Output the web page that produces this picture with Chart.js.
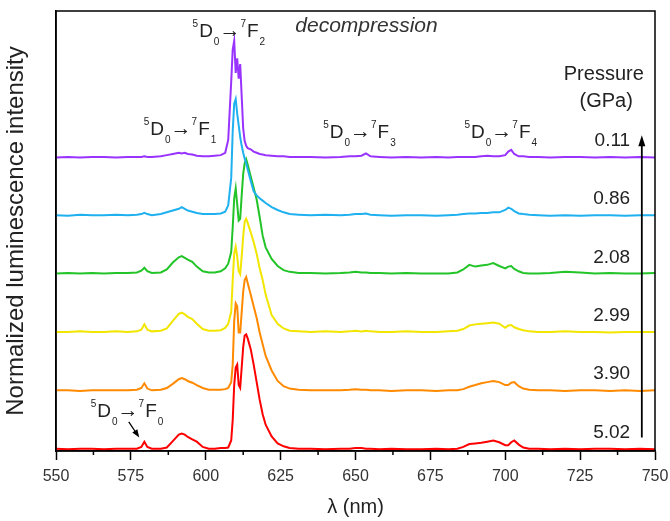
<!DOCTYPE html>
<html>
<head>
<meta charset="utf-8">
<script src="https://cdn.jsdelivr.net/npm/chart.js@4.4.1/dist/chart.umd.min.js"></script>
<style>
  html, body { margin:0; padding:0; background:#fff; }
  #wrap { width:670px; height:521px; }
</style>
</head>
<body>
<div id="wrap"><canvas id="spectra"></canvas></div>
<script>
// wavelength grid (nm), shared by all spectra
const wavelength = [
  550, 554, 558, 562, 566, 570, 574, 577, 578.5, 579.5, 580.5, 582,
  585, 587, 589, 591, 592, 593, 594, 595.5, 597, 599, 601, 603,
  605, 606.5, 607.5, 608.5, 609, 609.5, 610, 610.5, 611, 611.5, 612, 612.5,
  613, 613.5, 614, 615, 616, 617, 618, 619, 620, 622, 624, 626,
  628, 631, 635, 640, 645, 648, 650, 652, 653.5, 655, 658, 662,
  667, 672, 677, 681, 684, 686, 688, 690, 692, 694, 696, 698,
  700, 701, 702, 703, 704.5, 706, 708, 711, 715, 720, 725, 730,
  735, 740, 745, 750
];

// normalized intensities, one list per pressure
const int011 = [
  0.00, 0.01, 0.00, 0.01, 0.01, 0.00, 0.01, 0.01, 0.01, 0.02, 0.01, 0.01,
  0.02, 0.04, 0.06, 0.08, 0.07, 0.08, 0.06, 0.05, 0.03, 0.02, 0.02, 0.03,
  0.04, 0.08, 0.30, 1.30, 1.85, 2.00, 1.45, 1.70, 1.35, 1.60, 1.05, 0.50,
  0.28, 0.20, 0.16, 0.14, 0.10, 0.08, 0.06, 0.05, 0.04, 0.03, 0.02, 0.02,
  0.01, 0.01, 0.01, 0.00, 0.01, 0.02, 0.02, 0.03, 0.07, 0.02, 0.01, 0.00,
  0.01, 0.00, 0.01, 0.00, 0.01, 0.01, 0.01, 0.01, 0.02, 0.03, 0.02, 0.02,
  0.04, 0.10, 0.13, 0.06, 0.02, 0.02, 0.01, 0.01, 0.00, 0.01, 0.01, 0.00,
  0.01, 0.00, 0.01, 0.00
];
const int086 = [
  0.01, 0.00, 0.02, 0.01, 0.01, 0.02, 0.01, 0.02, 0.03, 0.05, 0.03, 0.01,
  0.03, 0.06, 0.09, 0.12, 0.15, 0.12, 0.09, 0.07, 0.05, 0.03, 0.03, 0.03,
  0.04, 0.07, 0.18, 0.65, 1.45, 1.92, 2.00, 1.75, 1.55, 1.35, 1.20, 1.08,
  0.98, 0.90, 0.80, 0.60, 0.42, 0.35, 0.30, 0.26, 0.22, 0.15, 0.10, 0.06,
  0.03, 0.02, 0.01, 0.02, 0.01, 0.02, 0.03, 0.03, 0.04, 0.02, 0.01, 0.00,
  0.01, 0.01, 0.00, 0.01, 0.02, 0.03, 0.04, 0.04, 0.05, 0.05, 0.06, 0.06,
  0.10, 0.14, 0.12, 0.08, 0.04, 0.03, 0.02, 0.01, 0.00, 0.01, 0.00, 0.01,
  0.01, 0.00, 0.01, 0.01
];
const int208 = [
  0.01, 0.02, 0.01, 0.02, 0.01, 0.02, 0.02, 0.03, 0.06, 0.11, 0.05, 0.02,
  0.03, 0.08, 0.20, 0.29, 0.31, 0.28, 0.25, 0.21, 0.13, 0.05, 0.03, 0.03,
  0.05, 0.10, 0.18, 0.38, 0.80, 1.30, 1.47, 1.20, 0.92, 0.95, 1.35, 1.72,
  1.90, 1.97, 1.88, 1.68, 1.48, 1.28, 0.98, 0.66, 0.46, 0.26, 0.14, 0.07,
  0.04, 0.02, 0.02, 0.01, 0.02, 0.03, 0.04, 0.03, 0.03, 0.02, 0.02, 0.01,
  0.02, 0.01, 0.01, 0.01, 0.03, 0.08, 0.16, 0.13, 0.15, 0.16, 0.19, 0.14,
  0.10, 0.13, 0.14, 0.09, 0.05, 0.02, 0.01, 0.01, 0.02, 0.04, 0.03, 0.01,
  0.02, 0.01, 0.01, 0.02
];
const int299 = [
  0.01, 0.01, 0.02, 0.01, 0.01, 0.02, 0.01, 0.02, 0.05, 0.14, 0.05, 0.02,
  0.03, 0.07, 0.20, 0.32, 0.34, 0.31, 0.27, 0.23, 0.15, 0.06, 0.03, 0.03,
  0.04, 0.08, 0.15, 0.35, 0.90, 1.35, 1.47, 1.30, 1.05, 1.00, 1.30, 1.65,
  1.90, 1.95, 1.88, 1.72, 1.55, 1.35, 1.10, 0.90, 0.65, 0.30, 0.15, 0.07,
  0.03, 0.02, 0.01, 0.02, 0.01, 0.02, 0.03, 0.02, 0.03, 0.02, 0.01, 0.01,
  0.02, 0.01, 0.01, 0.02, 0.03, 0.06, 0.12, 0.14, 0.15, 0.16, 0.17, 0.15,
  0.08, 0.12, 0.13, 0.09, 0.06, 0.04, 0.02, 0.01, 0.01, 0.02, 0.01, 0.01,
  0.00, 0.01, 0.01, 0.01
];
const int390 = [
  0.01, 0.01, 0.00, 0.01, 0.01, 0.01, 0.01, 0.02, 0.05, 0.13, 0.04, 0.01,
  0.02, 0.05, 0.12, 0.20, 0.22, 0.20, 0.17, 0.14, 0.10, 0.05, 0.02, 0.02,
  0.02, 0.03, 0.05, 0.15, 0.45, 1.20, 1.50, 1.45, 1.00, 1.00, 1.35, 1.70,
  1.90, 1.95, 1.85, 1.65, 1.45, 1.25, 1.00, 0.80, 0.60, 0.35, 0.17, 0.08,
  0.04, 0.02, 0.01, 0.01, 0.01, 0.02, 0.03, 0.02, 0.02, 0.01, 0.01, 0.00,
  0.01, 0.01, 0.00, 0.01, 0.01, 0.03, 0.07, 0.10, 0.13, 0.15, 0.17, 0.15,
  0.10, 0.10, 0.14, 0.15, 0.08, 0.04, 0.02, 0.01, 0.01, 0.00, 0.01, 0.01,
  0.00, 0.01, 0.00, 0.01
];
const int502 = [
  0.01, 0.00, 0.01, 0.01, 0.00, 0.01, 0.01, 0.01, 0.04, 0.13, 0.04, 0.01,
  0.01, 0.03, 0.14, 0.25, 0.27, 0.25, 0.21, 0.17, 0.13, 0.04, 0.01, 0.01,
  0.02, 0.02, 0.03, 0.15, 0.50, 1.10, 1.40, 1.45, 1.10, 1.05, 1.40, 1.75,
  1.95, 1.97, 1.90, 1.72, 1.45, 1.15, 0.85, 0.60, 0.42, 0.22, 0.10, 0.05,
  0.02, 0.01, 0.01, 0.00, 0.01, 0.01, 0.02, 0.02, 0.01, 0.01, 0.00, 0.01,
  0.00, 0.00, 0.01, 0.00, 0.01, 0.04, 0.09, 0.10, 0.11, 0.13, 0.15, 0.12,
  0.07, 0.07, 0.12, 0.15, 0.08, 0.03, 0.01, 0.01, 0.00, 0.01, 0.00, 0.01,
  0.01, 0.00, 0.01, 0.00
];

const pressures = ['0.11', '0.86', '2.08', '2.99', '3.90', '5.02'];
const spectra   = [int011, int086, int208, int299, int390, int502];
const offsets   = [5, 4, 3, 2, 1, 0];
const colors    = ['#9933ff', '#1fb0f0', '#22c428', '#f2e600', '#ff8a00', '#ff0000'];

const xTicks = [550, 575, 600, 625, 650, 675, 700, 725, 750];

const FONT = '"Liberation Sans", Arial, sans-serif';

// label positions in data units (nm, offset units)
const transitions = [
  {n:'2', x:595.6, y:7.07},
  {n:'1', x:579.3, y:5.38},
  {n:'3', x:639.2, y:5.34},
  {n:'4', x:686.4, y:5.34},
  {n:'0', x:561.6, y:0.556}
];

function drawTransition(ctx, px, py, n) {
  const big = '19px ' + FONT, small = '10px ' + FONT;
  const parts = [['5', small, -10, 1], ['D', big, 0, 1], ['0', small, 8, 0],
                 ['\u2192', '21px ' + FONT, 0, 0], ['7', small, -10, 1], ['F', big, 0, 1], [n, small, 8, 0]];
  let cx = px;
  for (const [t, f, dy, gap] of parts) {
    ctx.font = f;
    ctx.fillText(t, cx, py + dy);
    cx += ctx.measureText(t).width + gap;
  }
}

function arrow(ctx, x1, y1, x2, y2, head, w) {
  const ang = Math.atan2(y2 - y1, x2 - x1);
  ctx.beginPath();
  ctx.moveTo(x1, y1);
  ctx.lineTo(x2 - Math.cos(ang) * head * 0.8, y2 - Math.sin(ang) * head * 0.8);
  ctx.stroke();
  ctx.beginPath();
  ctx.moveTo(x2, y2);
  ctx.lineTo(x2 - Math.cos(ang) * head + Math.sin(ang) * w, y2 - Math.sin(ang) * head - Math.cos(ang) * w);
  ctx.lineTo(x2 - Math.cos(ang) * head - Math.sin(ang) * w, y2 - Math.sin(ang) * head + Math.cos(ang) * w);
  ctx.closePath();
  ctx.fill();
}

const annot = {
  id: 'annot',
  afterDraw(chart) {
    const {ctx, chartArea: a, scales: {x, y}} = chart;
    ctx.save();
    ctx.strokeStyle = '#000';
    ctx.fillStyle = '#000';
    ctx.lineWidth = 1.5;
    ctx.strokeRect(a.left, a.top, a.right - a.left, a.bottom - a.top);

    // minor ticks between labelled ones
    for (let i = 0; i < xTicks.length - 1; i++) {
      const px = x.getPixelForValue((xTicks[i] + xTicks[i + 1]) / 2);
      ctx.beginPath();
      ctx.moveTo(px, a.bottom);
      ctx.lineTo(px, a.bottom + 4);
      ctx.stroke();
    }

    ctx.fillStyle = '#222';
    ctx.textBaseline = 'alphabetic';
    ctx.textAlign = 'left';
    transitions.forEach(t => drawTransition(ctx, x.getPixelForValue(t.x), y.getPixelForValue(t.y), t.n));

    ctx.font = 'italic 21px ' + FONT;
    ctx.fillStyle = '#333';
    ctx.fillText('decompression', x.getPixelForValue(629.9), y.getPixelForValue(7.15));

    ctx.fillStyle = '#222';
    ctx.font = '20px ' + FONT;
    ctx.textAlign = 'center';
    ctx.fillText('Pressure', x.getPixelForValue(732.9), y.getPixelForValue(6.32));
    ctx.fillText('(GPa)', x.getPixelForValue(733.7), y.getPixelForValue(5.87));

    ctx.font = '19px ' + FONT;
    ctx.textAlign = 'right';
    pressures.forEach((p, i) => ctx.fillText(p, x.getPixelForValue(741.7), y.getPixelForValue(offsets[i] + 0.2)));

    // pressure direction arrow
    ctx.strokeStyle = '#000';
    ctx.fillStyle = '#000';
    ctx.lineWidth = 1.8;
    const ax = x.getPixelForValue(745.6);
    arrow(ctx, ax, y.getPixelForValue(0.2), ax, y.getPixelForValue(5.38), 11, 3.5);

    // arrow to the 7F0 line
    ctx.lineWidth = 1.3;
    arrow(ctx, x.getPixelForValue(574.3), y.getPixelForValue(0.47), x.getPixelForValue(577.8), y.getPixelForValue(0.2), 8, 3);
    ctx.restore();
  }
};

new Chart(document.getElementById('spectra').getContext('2d'), {
  type: 'scatter',
  data: {
    datasets: spectra.map((vals, i) => ({
      label: pressures[i] + ' GPa',
      data: wavelength.map((w, k) => ({x: w, y: offsets[i] + vals[k]})),
      showLine: true,
      borderColor: colors[i],
      borderWidth: 2,
      pointRadius: 0,
      tension: 0
    }))
  },
  options: {
    responsive: true, maintainAspectRatio: false, animation: false,
    layout: {padding: {top: 11, right: 15, left: 0, bottom: 0}},
    plugins: {legend: {display: false}, tooltip: {enabled: false}},
    scales: {
      x: {
        type: 'linear', min: 550, max: 750,
        afterBuildTicks: s => { s.ticks = xTicks.map(v => ({value: v})); },
        afterFit: s => { s.height = 70; s.paddingLeft = 0; s.paddingRight = 0; },
        grid: {drawOnChartArea: false, drawTicks: true, tickLength: 9, color: '#000', tickWidth: 1.5},
        border: {display: true, color: '#000', width: 1.5},
        ticks: {color: '#333', font: {family: FONT, size: 16}, padding: 7, maxRotation: 0},
        title: {display: true, text: '\u03bb (nm)', color: '#222', font: {family: FONT, size: 20}, padding: {top: 4, bottom: 2}}
      },
      y: {
        min: -0.03, max: 7.51,
        afterFit: s => { s.width = 56; },
        grid: {display: false},
        border: {display: true, color: '#000', width: 1.5},
        ticks: {display: false},
        title: {display: true, text: 'Normalized luminescence intensity', color: '#222', font: {family: FONT, size: 24}, padding: {top: 2, bottom: 4}}
      }
    }
  },
  plugins: [annot]
});
</script>
</body>
</html>
